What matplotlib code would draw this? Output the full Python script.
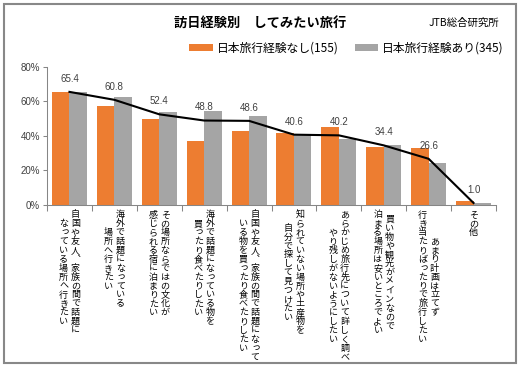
import matplotlib
matplotlib.use('Agg')
import matplotlib.pyplot as plt
from matplotlib.patches import Rectangle
import numpy as np

plt.rcParams['font.family'] = ['Noto Sans CJK JP', 'DejaVu Sans']

# ---------------- data ----------------
categories = [
    ["自国や友人、家族の間で話題に", "なっている場所へ行きたい"],
    ["海外で話題になっている", "場所へ行きたい"],
    ["その場所ならではの文化が", "感じられる宿に泊まりたい"],
    ["海外で話題になっている物を", "買ったり食べたりしたい"],
    ["自国や友人、家族の間で話題になって", "いる物を買ったり食べたりしたい"],
    ["知られていない場所や土産物を", "自分で探して見つけたい"],
    ["あらかじめ旅行先について詳しく調べ", "やり残しがないようにしたい"],
    ["買い物や観光がメインなので", "泊まる場所は安いところでよい"],
    ["あまり計画は立てず", "行き当たりばったりで旅行したい"],
    ["その他"],
]
no_exp = [65.2, 57.2, 49.5, 36.7, 42.7, 41.4, 45.2, 33.6, 33.0, 2.3]
yes_exp = [65.5, 62.4, 53.5, 54.3, 51.4, 40.4, 38.3, 34.8, 24.0, 1.0]
total = [65.4, 60.8, 52.4, 48.8, 48.6, 40.6, 40.2, 34.4, 26.6, 1.0]
yticks = [0, 20, 40, 60, 80]
ytick_labels = ["0%", "20%", "40%", "60%", "80%"]
series_names = ["日本旅行経験なし(155)", "日本旅行経験あり(345)"]
title = "訪日経験別　してみたい旅行"
source = "JTB総合研究所"

# ---------------- figure ----------------
W, H = 523, 370
fig = plt.figure(figsize=(W / 100, H / 100), dpi=100)
ax = fig.add_axes([47 / W, 1 - 204.7 / H, 449 / W, 138 / H])

x = np.arange(len(categories))
bw = 0.39
ax.bar(x - bw / 2, no_exp, bw, color="#ED7D31", label=series_names[0], zorder=2)
ax.bar(x + bw / 2, yes_exp, bw, color="#A5A5A5", label=series_names[1], zorder=2)
ax.plot(x, total, color="black", lw=1.5, zorder=3)

for xi, v in zip(x, total):
    ax.annotate(f"{v:.1f}", (xi, v), xytext=(0, 9.4), textcoords="offset points",
                ha="center", va="center", fontsize=7, color="#404040",
                family=["Liberation Sans"])

ax.set_xlim(-0.5, len(categories) - 0.5)
ax.set_ylim(0, 80)
ax.set_yticks(yticks)
ax.set_yticklabels(ytick_labels, family=["Liberation Sans"])
ax.set_xticks(np.arange(-0.5, len(categories), 1))
ax.tick_params(axis="x", labelbottom=False, length=4, direction="out", color="#868686", width=0.75)
ax.tick_params(axis="y", labelsize=7, labelcolor="#404040", length=3, direction="out",
               color="#868686", width=0.75, pad=2)
for s in ["top", "right"]:
    ax.spines[s].set_visible(False)
for s in ["left", "bottom"]:
    ax.spines[s].set_color("#868686")
    ax.spines[s].set_linewidth(0.75)

# vertical (tategaki) category labels
fs = 6.5
pitch = 6.4
top = 7.4
col_gap = 8.5
small = "っゃゅょぁぃぅぇぉ"
vert_forms = {"、": "\ufe11", "。": "\ufe12"}
for i, cols in enumerate(categories):
    n = len(cols)
    maxlen = max(len(c) for c in cols)
    for j, col in enumerate(cols):
        dx = ((n - 1) / 2 - j) * col_gap
        start = top + (maxlen - len(col)) / 2 * pitch
        for k, ch in enumerate(col):
            ox, oy = 0, 0
            if ch in small:
                ox, oy = 0.12 * fs, 0.12 * fs
            ch = vert_forms.get(ch, ch)
            ax.annotate(ch, (i, 0), xycoords=("data", "axes fraction"),
                        xytext=(dx + ox, -(start + k * pitch) + oy), textcoords="offset points",
                        ha="center", va="center", fontsize=fs, color="#000000",
                        annotation_clip=False)

# legend
ax.legend(loc="center right", bbox_to_anchor=(504 / W, 1 - 48 / H), bbox_transform=fig.transFigure,
          ncol=2, frameon=False, fontsize=8.5, handlelength=2.0, handleheight=0.6,
          handletextpad=0.35, columnspacing=1.35, borderpad=0, borderaxespad=0)

fig.text(260 / W, 1 - 23 / H, title, ha="center", va="center", fontsize=9.5, fontweight="bold")
fig.text(499 / W, 1 - 23 / H, source, ha="right", va="center", fontsize=7.5)

fig.patches.append(Rectangle((3.5 / W, 1 - 363 / H), (516 - 3.5) / W, (363 - 4) / H,
                             transform=fig.transFigure, fill=False, edgecolor="#888888", lw=1.5))

fig.savefig("out.png", dpi=100)
